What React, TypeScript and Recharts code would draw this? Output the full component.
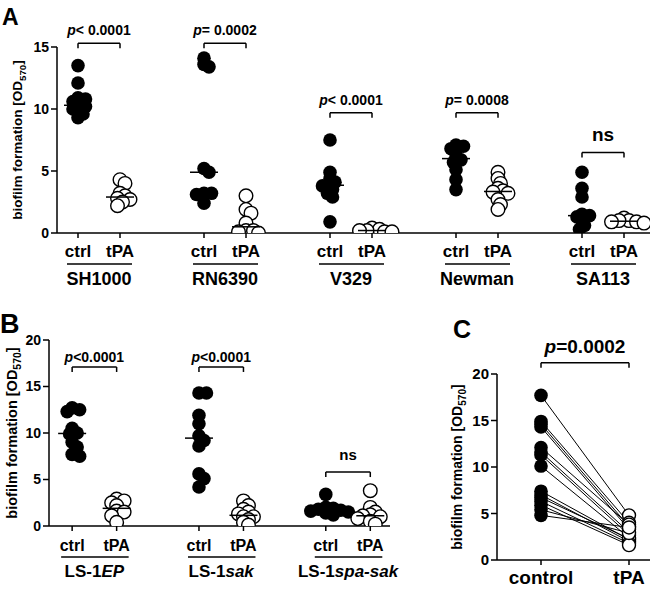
import React from 'react';
import { ReferenceDot, ReferenceLine, Scatter, ScatterChart, XAxis, YAxis } from 'recharts';

const FONT = '"Liberation Sans", Arial, Helvetica, sans-serif';

// ---- panel A ----
const strainsA = ['SH1000', 'RN6390', 'V329', 'Newman', 'SA113'];
const sh1000Ctrl = [13.5, 12.1, 10.9, 10.8, 10.6, 10.3, 10.2, 10.0, 9.8, 9.6, 9.3];
const sh1000Tpa = [4.3, 4.0, 3.2, 3.0, 2.8, 2.7, 2.5, 2.2];
const rn6390Ctrl = [14.1, 13.6, 13.4, 5.2, 4.9, 3.2, 3.2, 3.1, 2.4];
const rn6390Tpa = [3.0, 1.9, 1.6, 0.8, 0.2, 0.2, 0.1, 0.0];
const v329Ctrl = [7.5, 4.9, 4.4, 4.1, 3.9, 3.8, 3.5, 3.2, 2.9, 0.9];
const v329Tpa = [0.4, 0.3, 0.2, 0.1, 0.1, 0.2];
const newmanCtrl = [7.1, 7.0, 6.8, 6.6, 6.1, 5.9, 5.7, 5.1, 4.3, 3.5];
const newmanTpa = [4.9, 4.4, 4.0, 3.6, 3.4, 3.3, 3.2, 2.7, 2.3, 1.9];
const sa113Ctrl = [4.9, 3.6, 2.9, 1.5, 1.4, 1.3, 1.0, 0.6, 0.3];
const sa113Tpa = [1.2, 1.0, 1.0, 0.9, 0.9, 0.8];
const pTextA = ['< 0.0001', '= 0.0002', '< 0.0001', '= 0.0008', 'ns'];
const bracketA = [15.3, 15.3, 9.7, 9.7, 6.5];
const yTicksA = [0, 5, 10, 15];

// ---- panel B ----
const strainsB = ['LS-1', 'LS-1', 'LS-1'];
const strainsBItalic = ['EP', 'sak', 'spa-sak'];
const ls1epCtrl = [12.7, 12.5, 12.3, 10.5, 10.0, 9.9, 9.0, 8.5, 7.7, 7.5];
const ls1epTpa = [2.9, 2.7, 2.5, 2.2, 1.6, 1.5, 1.1, 0.4];
const ls1sakCtrl = [14.3, 14.3, 11.9, 11.0, 9.7, 9.2, 8.6, 5.6, 5.1, 4.2];
const ls1sakTpa = [2.7, 2.2, 1.8, 1.5, 1.3, 1.0, 1.0, 0.7, 0.4, 0.1];
const spasakCtrl = [3.4, 2.0, 1.9, 1.8, 1.7, 1.6, 1.5, 1.4, 1.2];
const spasakTpa = [3.8, 2.0, 1.5, 1.2, 1.1, 1.0, 0.8, 0.5, 0.2];
const pTextB = ['<0.0001', '<0.0001', 'ns'];
const bracketB = [17.1, 17.1, 5.8];
const yTicksB = [0, 5, 10, 15, 20];

// ---- panel C ----
const groupsC = ['control', 'tPA'];
const controlC = [17.7, 14.9, 14.6, 14.3, 12.1, 11.6, 11.3, 10.1, 7.4, 7.0, 6.7, 6.3, 5.9, 5.4, 4.8];
const tpaC = [4.8, 4.0, 3.6, 3.3, 3.8, 3.0, 2.7, 2.4, 2.2, 2.0, 2.3, 1.8, 1.6, 2.9, 3.5];
const pTextC = '=0.0002';
const bracketC = 21.2;

const median = (vals: number[]) => {
  const s = [...vals].sort((a, b) => a - b);
  const m = Math.floor(s.length / 2);
  return s.length % 2 ? s[m] : (s[m - 1] + s[m]) / 2;
};

// spread overlapping points sideways (px), returned in x units
function dodge(vals: number[], pxPerY: number, unitPx: number, minDist = 5.5) {
  const order = vals.map((_, i) => i).sort((a, b) => vals[b] - vals[a]);
  const placed: { dx: number; y: number }[] = [];
  const out = new Array(vals.length).fill(0);
  for (const i of order) {
    const y = vals[i] * pxPerY;
    let dx = 0;
    for (let k = 0; k < 60; k++) {
      const cand = k === 0 ? 0 : (k % 2 ? 1 : -1) * Math.ceil(k / 2) * 2.5;
      if (placed.every((p) => Math.hypot(p.dx - cand, p.y - y) >= minDist)) {
        dx = cand;
        break;
      }
    }
    placed.push({ dx, y });
    out[i] = dx / unitPx;
  }
  return out;
}

const filledDot = (r: number) => (p: any) => <circle cx={p.cx} cy={p.cy} r={r} fill="#000" />;
const openDot = (r: number) => (p: any) => (
  <circle cx={p.cx} cy={p.cy} r={r} fill="#fff" stroke="#000" strokeWidth={1.4} />
);
const medianBar = (w: number) => (p: any) => (
  <line x1={p.cx - w} x2={p.cx + w} y1={p.cy} y2={p.cy} stroke="#000" strokeWidth={1.5} />
);

function YLabel({ cx, cy, size }: any) {
  return (
    <text
      transform={`rotate(-90 ${cx} ${cy})`}
      x={cx}
      y={cy}
      textAnchor="middle"
      fontFamily={FONT}
      fontWeight="bold"
      fontSize={size}
      fill="#000"
    >
      biofilm formation [OD
      <tspan fontSize={size * 0.72} dy={size * 0.3}>
        570
      </tspan>
      <tspan dy={-size * 0.3}>]</tspan>
    </text>
  );
}

function PText({ x, y, text, size, nsSize }: any) {
  if (text === 'ns') {
    return (
      <text x={x} y={y} textAnchor="middle" fontFamily={FONT} fontWeight="bold" fontSize={nsSize} fill="#000">
        ns
      </text>
    );
  }
  return (
    <text x={x} y={y} textAnchor="middle" fontFamily={FONT} fontWeight="bold" fontSize={size} fill="#000">
      <tspan fontStyle="italic">p</tspan>
      {text}
    </text>
  );
}

interface Cfg {
  width: number;
  height: number;
  marginTop: number;
  marginRight: number;
  yAxisWidth: number;
  xAxisHeight: number;
  yMax: number;
  yTicks: number[];
  first: number;
  step: number;
  xMax: number;
  r: number;
  tickFont: number;
  nameFont: number;
  labelDy: number;
  ulDy: number;
  nameDy: number;
  pFont: number;
  nsFont: number;
  pGap: number;
  nsGap: number;
  yLabelX: number;
  yLabelSize: number;
  numFont: number;
}

function GroupPanel({
  cfg,
  names,
  italics,
  ctrl,
  tpa,
  pTexts,
  brackets,
}: {
  cfg: Cfg;
  names: string[];
  italics: string[];
  ctrl: number[][];
  tpa: number[][];
  pTexts: string[];
  brackets: number[];
}) {
  const plotW = cfg.width - cfg.marginRight - cfg.yAxisWidth;
  const plotH = cfg.height - cfg.marginTop - cfg.xAxisHeight;
  const unitPx = plotW / cfg.xMax;
  const pxPerY = plotH / cfg.yMax;
  const leg = 5 / pxPerY;
  const pos = names.map((_, g) => cfg.first + g * cfg.step);

  const ctrlPts = ctrl.flatMap((vals, g) => {
    const off = dodge(vals, pxPerY, unitPx);
    return vals.map((v, i) => ({ x: pos[g] + off[i], y: v }));
  });
  const tpaPts = tpa.flatMap((vals, g) => {
    const off = dodge(vals, pxPerY, unitPx);
    return vals.map((v, i) => ({ x: pos[g] + 1 + off[i], y: v }));
  });
  const medians = [
    ...ctrl.map((vals, g) => ({ x: pos[g], y: median(vals) })),
    ...tpa.map((vals, g) => ({ x: pos[g] + 1, y: median(vals) })),
  ];
  const ticks = pos.flatMap((p) => [p, p + 1]);

  const GroupTick = (props: any) => {
    const { x, y, index } = props;
    const isCtrl = index % 2 === 0;
    const g = Math.floor(index / 2);
    return (
      <g>
        <text x={x} y={y + cfg.labelDy} textAnchor="middle" fontFamily={FONT} fontWeight="bold" fontSize={cfg.tickFont} fill="#000">
          {isCtrl ? 'ctrl' : 'tPA'}
        </text>
        {isCtrl && (
          <>
            <line x1={x - 11} x2={x + unitPx + 12} y1={y + cfg.ulDy} y2={y + cfg.ulDy} stroke="#000" strokeWidth={1.5} />
            <text
              x={x + unitPx / 2}
              y={y + cfg.nameDy}
              textAnchor="middle"
              fontFamily={FONT}
              fontWeight="bold"
              fontSize={cfg.nameFont}
              fill="#000"
            >
              {names[g]}
              {italics[g] && <tspan fontStyle="italic">{italics[g]}</tspan>}
            </text>
          </>
        )}
      </g>
    );
  };

  return (
    <ScatterChart
      width={cfg.width}
      height={cfg.height}
      margin={{ top: cfg.marginTop, right: cfg.marginRight, bottom: 0, left: 0 }}
    >
      <XAxis
        type="number"
        dataKey="x"
        domain={[0, cfg.xMax]}
        ticks={ticks}
        interval={0}
        height={cfg.xAxisHeight}
        tickSize={5}
        tickMargin={0}
        axisLine={{ stroke: '#000', strokeWidth: 1.5 }}
        tickLine={{ stroke: '#000', strokeWidth: 1.5 }}
        tick={GroupTick}
        allowDataOverflow
      />
      <YAxis
        type="number"
        dataKey="y"
        domain={[0, cfg.yMax]}
        ticks={cfg.yTicks}
        interval={0}
        width={cfg.yAxisWidth}
        tickSize={6}
        tickMargin={2}
        axisLine={{ stroke: '#000', strokeWidth: 1.5 }}
        tickLine={{ stroke: '#000', strokeWidth: 1.5 }}
        tick={{ fill: '#000', fontSize: cfg.numFont, fontWeight: 'bold', fontFamily: FONT }}
        label={<YLabel cx={cfg.yLabelX} cy={cfg.marginTop + plotH / 2} size={cfg.yLabelSize} />}
        allowDataOverflow
      />
      {pos.map((p, g) => (
        <React.Fragment key={`br${g}`}>
          <ReferenceLine
            segment={[{ x: p, y: brackets[g] }, { x: p + 1, y: brackets[g] }]}
            stroke="#000"
            strokeWidth={1.5}
            ifOverflow="visible"
          />
          <ReferenceLine
            segment={[{ x: p, y: brackets[g] }, { x: p, y: brackets[g] - leg }]}
            stroke="#000"
            strokeWidth={1.5}
            ifOverflow="visible"
          />
          <ReferenceLine
            segment={[{ x: p + 1, y: brackets[g] }, { x: p + 1, y: brackets[g] - leg }]}
            stroke="#000"
            strokeWidth={1.5}
            ifOverflow="visible"
          />
          <ReferenceDot
            x={p + 0.5}
            y={brackets[g]}
            ifOverflow="visible"
            shape={(d: any) => (
              <PText
                x={d.cx}
                y={d.cy - (pTexts[g] === 'ns' ? cfg.nsGap : cfg.pGap)}
                text={pTexts[g]}
                size={cfg.pFont}
                nsSize={cfg.nsFont}
              />
            )}
          />
        </React.Fragment>
      ))}
      <Scatter data={ctrlPts} shape={filledDot(cfg.r)} isAnimationActive={false} />
      <Scatter data={tpaPts} shape={openDot(cfg.r)} isAnimationActive={false} />
      <Scatter data={medians} shape={medianBar(14)} isAnimationActive={false} />
    </ScatterChart>
  );
}

const cfgA: Cfg = {
  width: 650,
  height: 295,
  marginTop: 47,
  marginRight: 0,
  yAxisWidth: 57,
  xAxisHeight: 62,
  yMax: 15,
  yTicks: yTicksA,
  first: 0.5,
  step: 3,
  xMax: 593 / 42,
  r: 6.8,
  tickFont: 17,
  nameFont: 18,
  labelDy: 19,
  ulDy: 26,
  nameDy: 47,
  pFont: 14,
  nsFont: 19,
  pGap: 8,
  nsGap: 11,
  yLabelX: 22,
  yLabelSize: 13.5,
  numFont: 14,
};

const cfgB: Cfg = {
  width: 430,
  height: 289,
  marginTop: 40,
  marginRight: 40,
  yAxisWidth: 49,
  xAxisHeight: 63,
  yMax: 20,
  yTicks: yTicksB,
  first: 0.52,
  step: 2.85,
  xMax: 341 / 44.5,
  r: 6.8,
  tickFont: 16,
  nameFont: 17,
  labelDy: 20,
  ulDy: 26,
  nameDy: 46,
  pFont: 14,
  nsFont: 15,
  pGap: 5,
  nsGap: 12,
  yLabelX: 17,
  yLabelSize: 14.5,
  numFont: 14,
};

function PanelC() {
  const width = 230;
  const height = 289;
  const marginTop = 74;
  const yAxisWidth = 77;
  const xAxisHeight = 29;
  const xMax = 153 / 88;
  const plotH = height - marginTop - xAxisHeight;
  const pxPerY = plotH / 20;
  const leg = 5 / pxPerY;
  const xs = [0.5, 1.5];
  const pairs = controlC.map((c, i) => [
    { x: xs[0], y: c },
    { x: xs[1], y: tpaC[i] },
  ]);
  const ctrlPts = controlC.map((v) => ({ x: xs[0], y: v }));
  const tpaPts = tpaC.map((v) => ({ x: xs[1], y: v }));

  const CTick = (props: any) => (
    <text x={props.x} y={props.y + 19} textAnchor="middle" fontFamily={FONT} fontWeight="bold" fontSize={19} fill="#000">
      {groupsC[props.index]}
    </text>
  );

  return (
    <ScatterChart width={width} height={height} margin={{ top: marginTop, right: 0, bottom: 0, left: 0 }}>
      <XAxis
        type="number"
        dataKey="x"
        domain={[0, xMax]}
        ticks={xs}
        interval={0}
        height={xAxisHeight}
        tickSize={5}
        tickMargin={0}
        axisLine={{ stroke: '#000', strokeWidth: 1.5 }}
        tickLine={{ stroke: '#000', strokeWidth: 1.5 }}
        tick={CTick}
        allowDataOverflow
      />
      <YAxis
        type="number"
        dataKey="y"
        domain={[0, 20]}
        ticks={yTicksB}
        interval={0}
        width={yAxisWidth}
        tickSize={6}
        tickMargin={2}
        axisLine={{ stroke: '#000', strokeWidth: 1.5 }}
        tickLine={{ stroke: '#000', strokeWidth: 1.5 }}
        tick={{ fill: '#000', fontSize: 15, fontWeight: 'bold', fontFamily: FONT }}
        label={<YLabel cx={42} cy={marginTop + plotH / 2} size={14} />}
        allowDataOverflow
      />
      <ReferenceLine segment={[{ x: xs[0], y: bracketC }, { x: xs[1], y: bracketC }]} stroke="#000" strokeWidth={1.5} ifOverflow="visible" />
      <ReferenceLine segment={[{ x: xs[0], y: bracketC }, { x: xs[0], y: bracketC - leg }]} stroke="#000" strokeWidth={1.5} ifOverflow="visible" />
      <ReferenceLine segment={[{ x: xs[1], y: bracketC }, { x: xs[1], y: bracketC - leg }]} stroke="#000" strokeWidth={1.5} ifOverflow="visible" />
      <ReferenceDot
        x={1}
        y={bracketC}
        ifOverflow="visible"
        shape={(d: any) => <PText x={d.cx} y={d.cy - 10} text={pTextC} size={19} nsSize={19} />}
      />
      {pairs.map((pr, i) => (
        <Scatter
          key={`pair${i}`}
          data={pr}
          line={{ stroke: '#000', strokeWidth: 1 }}
          shape={() => <g />}
          isAnimationActive={false}
        />
      ))}
      <Scatter data={ctrlPts} shape={filledDot(6.8)} isAnimationActive={false} />
      <Scatter data={tpaPts} shape={openDot(6.5)} isAnimationActive={false} />
    </ScatterChart>
  );
}

export default function App() {
  return (
    <div style={{ position: 'absolute', left: 0, top: 0, width: 650, height: 589, background: '#fff', overflow: 'hidden' }}>
      <svg width={650} height={589} style={{ position: 'absolute', left: 0, top: 0 }}>
        <text x={2} y={25} fontFamily={FONT} fontWeight="bold" fontSize={23} fill="#000">
          A
        </text>
        <text x={0} y={333} fontFamily={FONT} fontWeight="bold" fontSize={27} fill="#000">
          B
        </text>
        <text x={453} y={338} fontFamily={FONT} fontWeight="bold" fontSize={25} fill="#000">
          C
        </text>
      </svg>
      <div style={{ position: 'absolute', left: 0, top: 0 }}>
        <GroupPanel
          cfg={cfgA}
          names={strainsA}
          italics={strainsA.map(() => '')}
          ctrl={[sh1000Ctrl, rn6390Ctrl, v329Ctrl, newmanCtrl, sa113Ctrl]}
          tpa={[sh1000Tpa, rn6390Tpa, v329Tpa, newmanTpa, sa113Tpa]}
          pTexts={pTextA}
          brackets={bracketA}
        />
      </div>
      <div style={{ position: 'absolute', left: 0, top: 300 }}>
        <GroupPanel
          cfg={cfgB}
          names={strainsB}
          italics={strainsBItalic}
          ctrl={[ls1epCtrl, ls1sakCtrl, spasakCtrl]}
          tpa={[ls1epTpa, ls1sakTpa, spasakTpa]}
          pTexts={pTextB}
          brackets={bracketB}
        />
      </div>
      <div style={{ position: 'absolute', left: 420, top: 300 }}>
        <PanelC />
      </div>
    </div>
  );
}
